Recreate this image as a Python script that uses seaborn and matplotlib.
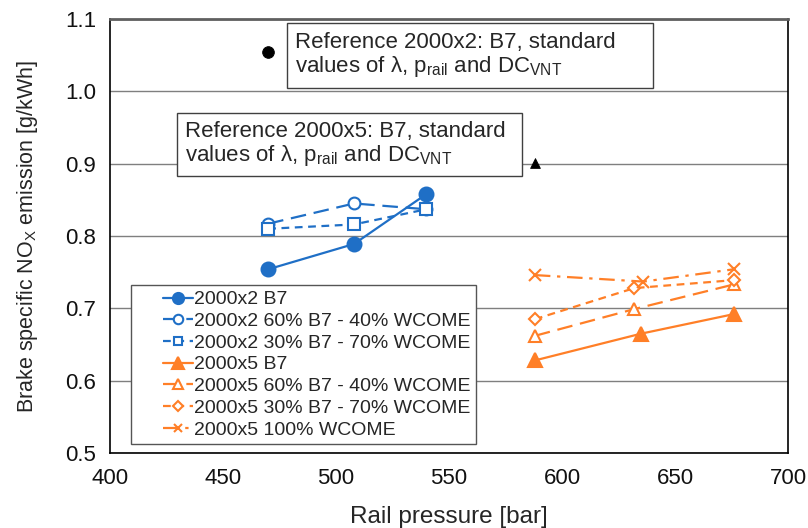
import matplotlib
matplotlib.use("Agg")
import matplotlib.pyplot as plt
import seaborn as sns
import pandas as pd
from matplotlib.lines import Line2D
from matplotlib.legend_handler import HandlerLine2D
from matplotlib.patches import Rectangle

sns.set_theme(style="white")
plt.rcParams['font.family'] = ['Liberation Sans', 'DejaVu Sans']
plt.rcParams['mathtext.fontset'] = 'custom'
plt.rcParams['mathtext.rm'] = 'Liberation Sans'
plt.rcParams['mathtext.it'] = 'Liberation Sans:italic'

BLUE = '#1F6FC6'
ORANGE = '#FF7F27'

# Data
x_2000x2 = [470, 508, 540]
y_2x2_b7 = [0.754, 0.789, 0.858]
y_2x2_60 = [0.817, 0.845, 0.837]
y_2x2_30 = [0.810, 0.816, 0.837]

x_2000x5_b7 = [588, 635, 676]
y_2x5_b7 = [0.628, 0.665, 0.692]
x_2000x5_60 = [588, 632, 676]
y_2x5_60 = [0.662, 0.699, 0.733]
x_2000x5_30 = [588, 632, 676]
y_2x5_30 = [0.685, 0.728, 0.739]
x_2000x5_100 = [588, 636, 676]
y_2x5_100 = [0.746, 0.737, 0.754]

ref_x = [470, 588]
ref_y = [1.054, 0.901]

labels = ['2000x2 B7', '2000x2 60% B7 - 40% WCOME', '2000x2 30% B7 - 70% WCOME',
          '2000x5 B7', '2000x5 60% B7 - 40% WCOME', '2000x5 30% B7 - 70% WCOME',
          '2000x5 100% WCOME']

series = [
    (x_2000x2, y_2x2_b7, BLUE, 'o', True, '-', 10),
    (x_2000x2, y_2x2_60, BLUE, 'o', False, (0, (7, 3.5)), 8.5),
    (x_2000x2, y_2x2_30, BLUE, 's', False, (0, (3.5, 2.5)), 8),
    (x_2000x5_b7, y_2x5_b7, ORANGE, '^', True, '-', 10),
    (x_2000x5_60, y_2x5_60, ORANGE, '^', False, (0, (7, 3.5)), 9),
    (x_2000x5_30, y_2x5_30, ORANGE, 'D', False, (0, (3.5, 2.5)), 6),
    (x_2000x5_100, y_2x5_100, ORANGE, 'x', False, (0, (7, 3, 1.5, 3)), 8),
]

fig = plt.figure(figsize=(8.08, 5.28), dpi=100)
ax = fig.add_axes([0.1361, 0.142, 0.8391, 0.822])

for (xs, ys, c, m, filled, ls, ms), lab in zip(series, labels):
    df = pd.DataFrame({'x': xs, 'y': ys})
    sns.lineplot(data=df, x='x', y='y', ax=ax, color=c, marker=m, linestyle=ls,
                 markersize=ms, markerfacecolor=c if filled else 'white',
                 markeredgecolor=c, markeredgewidth=1.5, linewidth=1.6,
                 label=lab, sort=False)

sns.scatterplot(x=[ref_x[0]], y=[ref_y[0]], ax=ax, color='black', marker='o', s=70,
                edgecolor='black', legend=False)
sns.scatterplot(x=[ref_x[1]], y=[ref_y[1]], ax=ax, color='black', marker='^', s=50,
                edgecolor='black', legend=False)

ax.set_xlim(400, 700)
ax.set_ylim(0.5, 1.1)
ax.set_xticks([400, 450, 500, 550, 600, 650, 700])
ax.set_yticks([0.5, 0.6, 0.7, 0.8, 0.9, 1.0, 1.1])
ax.set_yticklabels(['0.5', '0.6', '0.7', '0.8', '0.9', '1.0', '1.1'])
ax.yaxis.grid(True, color='#7F7F7F', linewidth=1)
ax.set_axisbelow(True)
for name, s in ax.spines.items():
    s.set_visible(True)
    s.set_color('black')
    s.set_linewidth(1.2)
ax.spines['top'].set_color('#606060')
ax.spines['top'].set_linewidth(2)
ax.tick_params(axis='both', labelsize=16, length=0, colors='#111111')
ax.tick_params(axis='x', pad=11)
ax.tick_params(axis='y', pad=10)
ax.set_xlabel('Rail pressure [bar]', fontsize=17.5, labelpad=12)
ax.set_ylabel(r'Brake specific NO$_\mathrm{X}$ emission [g/kWh]', fontsize=15.5, labelpad=18)

# annotation boxes
ax.add_patch(Rectangle((478.3, 1.005), 162.0, 0.0895, facecolor='white',
                       edgecolor='#404040', linewidth=1, zorder=3))
ax.add_patch(Rectangle((429.6, 0.8827), 152.7, 0.088, facecolor='white',
                       edgecolor='#404040', linewidth=1, zorder=3))
ax.text(481.9, 1.05, 'Reference 2000x2: B7, standard\nvalues of λ, p$_\\mathrm{rail}$ and DC$_\\mathrm{VNT}$',
        fontsize=16, va='center', ha='left', linespacing=1.05, zorder=4)
ax.text(433.2, 0.927, 'Reference 2000x5: B7, standard\nvalues of λ, p$_\\mathrm{rail}$ and DC$_\\mathrm{VNT}$',
        fontsize=16, va='center', ha='left', linespacing=1.05, zorder=4)

leg = ax.legend(loc='lower left', bbox_to_anchor=(0.0305, 0.02), fontsize=14,
                frameon=True, fancybox=False, edgecolor='#555555', framealpha=1,
                handlelength=2.9, handletextpad=0.05, labelspacing=0.21,
                borderpad=0.3, borderaxespad=0, markerscale=0.8,
                handler_map={Line2D: HandlerLine2D(xpad=1.35)})
leg.get_frame().set_linewidth(1)

fig.savefig('out.png', dpi=100)
